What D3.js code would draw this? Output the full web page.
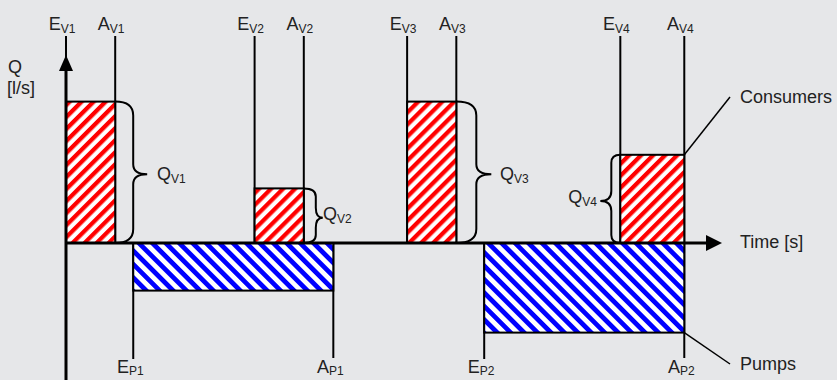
<!DOCTYPE html>
<html>
<head>
<meta charset="utf-8">
<script src="https://cdn.jsdelivr.net/npm/d3@7"></script>
<style>
  body { margin: 0; background: #e6e7e9; }
  svg { display: block; font-family: "Liberation Sans", Arial, sans-serif; }
  text { fill: #222; }
</style>
</head>
<body>
<div id="chart"></div>
<script>
// consumers (V) and pumps (P): start time, end time, flow
const consumerNames = ["V1", "V2", "V3", "V4"];
const consumerStart = [0, 11.5, 20.8, 33.8];
const consumerEnd = [3, 14.5, 23.8, 37.7];
const consumerFlow = [10.1, 3.9, 10.1, 6.3];

const pumpNames = ["P1", "P2"];
const pumpStart = [4.1, 25.5];
const pumpEnd = [16.3, 37.7];
const pumpFlow = [-3.4, -6.4];

const width = 837, height = 380;

const svg = d3.select("#chart").append("svg")
  .attr("width", width).attr("height", height);

const x = d3.scaleLinear().domain([0, 40]).range([66, 722]);
const y = d3.scaleLinear().domain([-10, 13.5]).range([383, 54]);

const defs = svg.append("defs");
function stripes(id, color, size, angle) {
  const p = defs.append("pattern")
    .attr("id", id)
    .attr("patternUnits", "userSpaceOnUse")
    .attr("width", size).attr("height", size)
    .attr("patternTransform", `rotate(${angle})`);
  p.append("rect").attr("width", size).attr("height", size).attr("fill", "#fff");
  p.append("rect").attr("width", size / 2).attr("height", size).attr("fill", color);
}
stripes("red", "#ff0000", 8.5, 45);
stripes("blue", "#0000ff", 9.5, -45);

const consumers = consumerNames.map((n, i) => ({ name: n, t0: consumerStart[i], t1: consumerEnd[i], q: consumerFlow[i] }));
const pumps = pumpNames.map((n, i) => ({ name: n, t0: pumpStart[i], t1: pumpEnd[i], q: pumpFlow[i] }));

// label with subscript
function label(g, px, py, main, sub, anchor, dy) {
  const t = g.append("text").attr("x", px).attr("y", py)
    .attr("text-anchor", anchor || "middle").style("font-size", "18px");
  t.append("tspan").text(main);
  t.append("tspan").attr("dy", dy == null ? 3 : dy).style("font-size", "12px").text(sub);
  return t;
}

// vertical guide lines
const guides = svg.append("g").attr("stroke", "#000").attr("stroke-width", 2);
consumers.forEach(d => {
  [d.t0, d.t1].forEach(t => {
    guides.append("line").attr("x1", x(t)).attr("x2", x(t))
      .attr("y1", 36).attr("y2", y(0));
  });
});
pumps.forEach(d => {
  guides.append("line").attr("x1", x(d.t0)).attr("x2", x(d.t0)).attr("y1", y(0)).attr("y2", 359);
  guides.append("line").attr("x1", x(d.t1)).attr("x2", x(d.t1)).attr("y1", y(0)).attr("y2", 358);
});

// bars
svg.append("g").selectAll("rect")
  .data(consumers).join("rect")
  .attr("x", d => x(d.t0)).attr("y", d => y(d.q))
  .attr("width", d => x(d.t1) - x(d.t0))
  .attr("height", d => y(0) - y(d.q))
  .attr("fill", "url(#red)").attr("stroke", "#000").attr("stroke-width", 2);

svg.append("g").selectAll("rect")
  .data(pumps).join("rect")
  .attr("x", d => x(d.t0)).attr("y", y(0))
  .attr("width", d => x(d.t1) - x(d.t0))
  .attr("height", d => y(d.q) - y(0))
  .attr("fill", "url(#blue)").attr("stroke", "#000").attr("stroke-width", 2);

// axes
const axes = svg.append("g");
axes.append("line").attr("x1", x(0)).attr("x2", x(0)).attr("y1", 66).attr("y2", height)
  .attr("stroke", "#000").attr("stroke-width", 3);
axes.append("path").attr("d", `M${x(0)},${y(13.5) + 1} L${x(0) - 7},${y(13.5) + 17} L${x(0) + 7},${y(13.5) + 17} Z`)
  .attr("fill", "#000");
axes.append("line").attr("x1", x(0)).attr("x2", x(40) - 12).attr("y1", y(0)).attr("y2", y(0))
  .attr("stroke", "#000").attr("stroke-width", 3);
axes.append("path").attr("d", `M${x(40)},${y(0)} L${x(40) - 16},${y(0) - 8} L${x(40) - 16},${y(0) + 8} Z`)
  .attr("fill", "#000");

svg.append("text").attr("x", 8).attr("y", 73).style("font-size", "18px").text("Q");
svg.append("text").attr("x", 7).attr("y", 94).style("font-size", "18px").text("[l/s]");
svg.append("text").attr("x", 740).attr("y", 248).style("font-size", "18px").text("Time [s]");

// top / bottom labels
consumers.forEach(d => {
  label(svg, x(d.t0) - 4, 30, "E", d.name);
  label(svg, x(d.t1) - 4, 30, "A", d.name);
});
pumps.forEach(d => {
  label(svg, x(d.t0) - 3, 373, "E", d.name, "middle", 2);
  label(svg, x(d.t1) - 3, 373, "A", d.name, "middle", 2);
});

// braces
function brace(x0, yT, yB, dx, tip, r) {
  const x1 = x0 + dx, x2 = x1 + tip, ym = (yT + yB) / 2 + 2;
  return `M${x0},${yT} Q${x1},${yT} ${x1},${yT + r} L${x1},${ym - 10} Q${x1},${ym} ${x2},${ym}` +
    ` Q${x1},${ym} ${x1},${ym + 10} L${x1},${yB - r} Q${x1},${yB} ${x0},${yB}`;
}
const braceSpec = [
  { dx: 18, tip: 14, r: 14, lx: 157, ly: 180, anchor: "start" },
  { dx: 12, tip: 7, r: 8, lx: 323, ly: 220, anchor: "start" },
  { dx: 20, tip: 15, r: 14, lx: 500, ly: 180, anchor: "start" },
  { dx: -9, tip: -11, r: 8, lx: 597, ly: 203, anchor: "end" }
];
consumers.forEach((d, i) => {
  const b = braceSpec[i];
  const x0 = b.dx > 0 ? x(d.t1) : x(d.t0);
  svg.append("path").attr("d", brace(x0, y(d.q), y(0), b.dx, b.tip, b.r))
    .attr("fill", "none").attr("stroke", "#000").attr("stroke-width", 2);
  label(svg, b.lx, b.ly, "Q", d.name, b.anchor);
});

// callouts
const v4 = consumers[3], p2 = pumps[1];
svg.append("line").attr("x1", x(v4.t1)).attr("y1", y(v4.q)).attr("x2", 730).attr("y2", 97)
  .attr("stroke", "#000").attr("stroke-width", 1.5);
svg.append("text").attr("x", 740).attr("y", 103).style("font-size", "18px").text("Consumers");
svg.append("line").attr("x1", x(p2.t1)).attr("y1", y(p2.q)).attr("x2", 730).attr("y2", 364)
  .attr("stroke", "#000").attr("stroke-width", 1.5);
svg.append("text").attr("x", 740).attr("y", 370).style("font-size", "18px").text("Pumps");
</script>
</body>
</html>
